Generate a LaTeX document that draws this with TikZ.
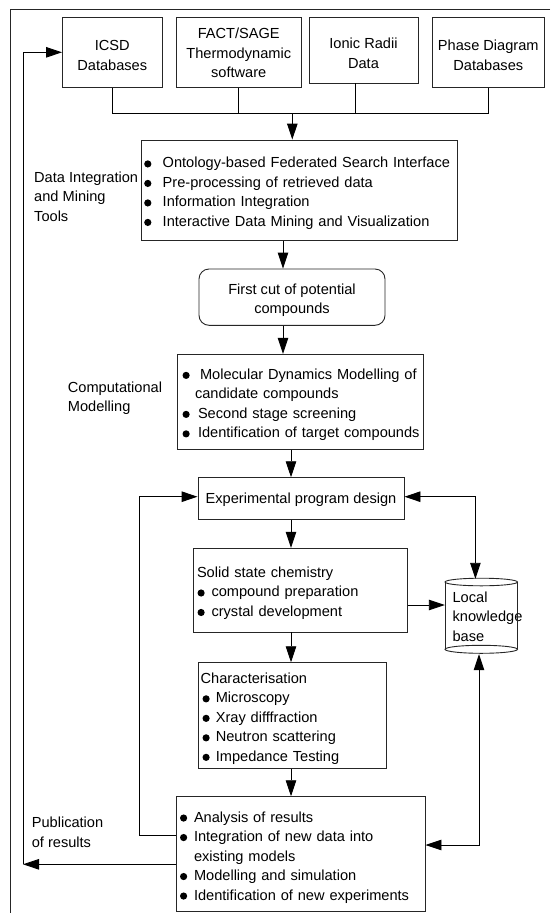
\documentclass[tikz,border=0pt]{standalone}
\usepackage{fontspec}
\setmainfont{Liberation Sans}
\usetikzlibrary{arrows.meta}
\newcommand\bdot{\tikz[x=1pt,y=1pt,scale=1,baseline=-4pt]\fill[black] (0,0) circle[radius=3.6pt];}
\newcommand\bi[3]{\mbox{\hspace*{#1}\makebox[#2][l]{\bdot}#3}}
\newcommand\dn{\rule{0pt}{16.7pt}}
\begin{document}
\begin{tikzpicture}[x=1pt,y=-1pt,
  font=\fontsize{14.6}{19.5}\selectfont,
  box/.style={draw=black!85, line width=0.9pt, inner ysep=0pt},
  lbl/.style={inner sep=0pt, align=left, anchor=west},
  conn/.style={draw=black, line width=0.9pt},
  arr/.style={conn, -{Triangle[length=16pt,width=10.5pt]}},
  darr/.style={conn, {Triangle[length=16pt,width=10.5pt]}-{Triangle[length=16pt,width=10.5pt]}}]
\useasboundingbox (0,0) rectangle (550,913);
% outer frame
\draw[draw=black!85, line width=0.9pt] (550,9.5) -- (10,9.5) -- (10,913);
% sources
\node[box, minimum width=99.5pt, minimum height=70pt, align=center] (icsd) at (112.25,52.3) {\dn ICSD\\Databases};
\node[box, minimum width=124.5pt, minimum height=70pt, align=center] (fact) at (238.75,52.3) {\rule{0pt}{12pt}FACT/SAGE\\Thermodynamic\\software};
\node[box, minimum width=109pt, minimum height=66pt, align=center] (ionic) at (363.5,50.3) {\dn Ionic Radii\\Data};
\node[box, minimum width=111.4pt, minimum height=70pt, align=center] (phase) at (488.3,52.3) {\dn Phase Diagram\\Databases};
\coordinate (bus) at (292.3,113.3);
\coordinate (ionicdrop) at (355,83.3);
\draw[conn] (icsd.south) -- (icsd.south |- bus) -- (phase.south |- bus) -- (phase.south);
\draw[conn] (fact.south) -- (fact.south |- bus);
\draw[conn] (ionicdrop) -- (ionicdrop |- bus);
% data integration
\node[box, minimum width=316pt, minimum height=100.7pt, inner xsep=3.2pt, text width=309.6pt, align=left] (di) at (299,190.35)
 {\dn\bi{0pt}{18.5pt}{Ontology-based Federated Search Interface}\\
  \bi{0pt}{18.5pt}{Pre-processing of retrieved data}\\
  \bi{0pt}{18.5pt}{Information Integration}\\
  \bi{0pt}{18.5pt}{Interactive Data Mining and Visualization}};
\draw[arr] (bus) -- (bus |- di.north);
\node[lbl] (ldi) at (34,196.5) {Data Integration\\and Mining\\Tools};
% first cut
\node[box, rounded corners=10pt, minimum width=186pt, minimum height=56.3pt, align=center] (fc) at (292,297.15) {\dn First cut of potential\\compounds};
\coordinate (c1) at (283,0);
\draw[arr] (c1 |- di.south) -- (c1 |- fc.north);
% computational
\node[box, minimum width=245.7pt, minimum height=95pt, inner xsep=5.2pt, text width=235.3pt, align=left] (comp) at (300.15,401.8)
 {\dn\bi{0pt}{17.5pt}{Molecular Dynamics Modelling of}\\
  \mbox{\hspace*{12.5pt}candidate compounds}\\
  \bi{0pt}{15.5pt}{Second stage screening}\\
  \bi{0pt}{15.5pt}{Identification of target compounds}};
\draw[arr] (c1 |- fc.south) -- (c1 |- comp.north);
\node[lbl] (lcomp) at (67.7,398) {Computational\\Modelling};
% experimental program design
\node[box, minimum width=206pt, minimum height=41.6pt] (exp) at (301,498.5) {\rule{0pt}{13.7pt}Experimental program design};
\coordinate (c2) at (291,0);
\draw[arr] (c2 |- comp.south) -- (c2 |- exp.north);
% solid state chemistry
\node[box, minimum width=214pt, minimum height=83.7pt, inner xsep=3.3pt, text width=207.4pt, align=left] (solid) at (300.7,590.15)
 {\dn\mbox{Solid state chemistry}\\
  \bi{0.5pt}{14pt}{compound preparation}\\
  \bi{0.5pt}{14pt}{crystal development}};
\draw[arr] (c2 |- exp.south) -- (c2 |- solid.north);
% characterisation
\node[box, minimum width=188pt, minimum height=105.6pt, inner xsep=2.7pt, text width=182.6pt, align=left] (char) at (292,715.5)
 {\dn\mbox{Characterisation}\\
  \bi{1.8pt}{13.3pt}{Microscopy}\\
  \bi{1.8pt}{13.3pt}{Xray difffraction}\\
  \bi{1.8pt}{13.3pt}{Neutron scattering}\\
  \bi{1.8pt}{13.3pt}{Impedance Testing}};
\draw[arr] (c2 |- solid.south) -- (c2 |- char.north);
% analysis
\node[box, minimum width=249pt, minimum height=115pt, inner xsep=4pt, text width=241pt, align=left] (an) at (300.5,854.2)
 {\dn\bi{0pt}{14pt}{Analysis of results}\\
  \bi{0pt}{14pt}{Integration of new data into}\\
  \mbox{\hspace*{14pt}existing models}\\
  \bi{0pt}{14pt}{Modelling and simulation}\\
  \bi{0pt}{14pt}{Identification of new experiments}};
\draw[arr] (c2 |- char.south) -- (c2 |- an.north);
% local knowledge base (cylinder)
\node[minimum width=72.5pt, minimum height=75pt, inner xsep=7.6pt, inner ysep=0pt, text width=57.3pt, align=left] (kb) at (481.25,616.5)
 {Local\\\mbox{knowledge}\\base};
\draw[draw=black!85, line width=0.9pt] (445,582) -- (445,649.3) (517.5,582) -- (517.5,649.3);
\draw[draw=black!85, line width=0.9pt] (481.25,582) ellipse [x radius=36.25pt, y radius=3.8pt];
\draw[draw=black!85, line width=0.9pt] (481.25,649.3) ellipse [x radius=36.25pt, y radius=4pt];
% loops
\coordinate (L) at (139.6,496.7);
\coordinate (yan) at (0,835);
\draw[arr] (an.west |- yan) -- (L |- yan) -- (L) -- (exp.west |- L);
\coordinate (R1) at (475.4,496.7);
\draw[darr] (exp.east |- R1) -- (R1) -- (R1 |- kb.north);
\coordinate (ys) at (0,605);
\draw[arr] (solid.east |- ys) -- (kb.west |- ys);
\coordinate (R2) at (479,845);
\draw[darr] (an.east |- R2) -- (R2) -- (R2 |- kb.south);
% publication
\coordinate (P) at (23,864.3);
\draw[arr] (an.west |- P) -- (P);
\draw[arr] (P) -- (P |- icsd.west) -- (icsd.west);
\node[lbl] (lpub) at (31.6,832.5) {Publication\\of results};
\end{tikzpicture}
\end{document}
